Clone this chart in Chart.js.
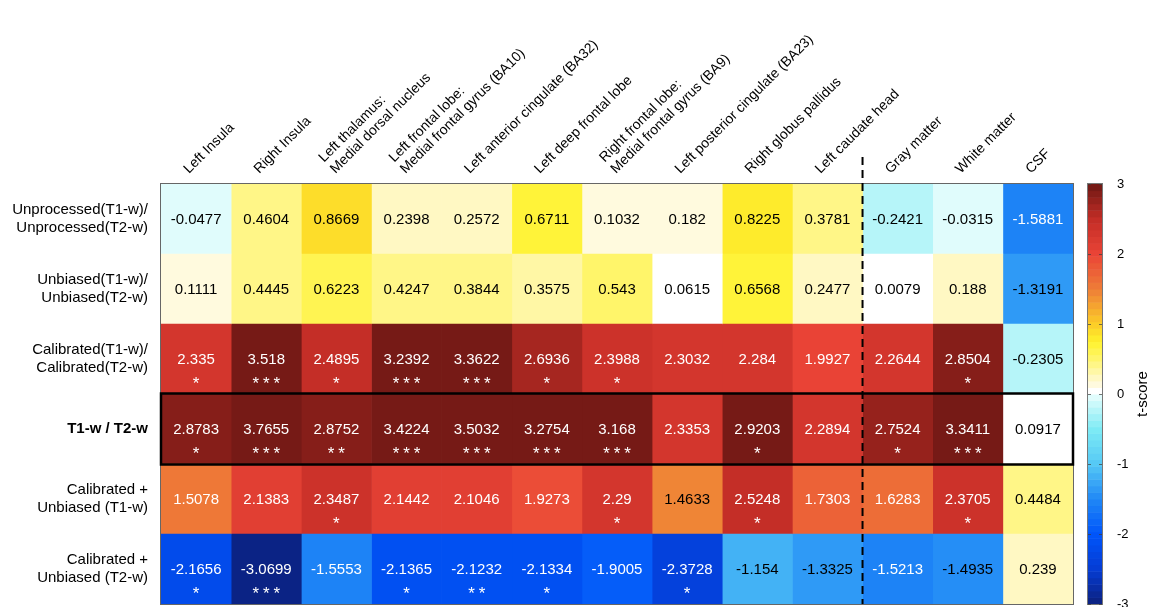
<!DOCTYPE html>
<html>
<head>
<meta charset="utf-8">
<script src="https://cdn.jsdelivr.net/npm/chart.js@4"></script>
<style>
  html, body { margin: 0; padding: 0; background: #fff; }
  #wrap { width: 1149px; height: 607px; }
</style>
</head>
<body>
<div id="wrap"><canvas id="heat" width="1149" height="607"></canvas></div>
<script>
// regions (columns) and contrasts (rows)
const regions = [
    ['Left Insula'],
    ['Right Insula'],
    ['Left thalamus:', 'Medial dorsal nucleus'],
    ['Left frontal lobe:', 'Medial frontal gyrus (BA10)'],
    ['Left anterior cingulate (BA32)'],
    ['Left deep frontal lobe'],
    ['Right frontal lobe:', 'Medial frontal gyrus (BA9)'],
    ['Left posterior cingulate (BA23)'],
    ['Right globus pallidus'],
    ['Left caudate head'],
    ['Gray matter'],
    ['White matter'],
    ['CSF']
];
const contrasts = [
    ['Unprocessed(T1-w)/', 'Unprocessed(T2-w)'],
    ['Unbiased(T1-w)/', 'Unbiased(T2-w)'],
    ['Calibrated(T1-w)/', 'Calibrated(T2-w)'],
    'T1-w / T2-w',
    ['Calibrated +', 'Unbiased (T1-w)'],
    ['Calibrated +', 'Unbiased (T2-w)']
];

// t-scores per contrast
const unprocessed = [-0.0477, 0.4604, 0.8669, 0.2398, 0.2572, 0.6711, 0.1032, 0.182, 0.8225, 0.3781, -0.2421, -0.0315, -1.5881];
const unbiased    = [0.1111, 0.4445, 0.6223, 0.4247, 0.3844, 0.3575, 0.543, 0.0615, 0.6568, 0.2477, 0.0079, 0.188, -1.3191];
const calibrated  = [2.335, 3.518, 2.4895, 3.2392, 3.3622, 2.6936, 2.3988, 2.3032, 2.284, 1.9927, 2.2644, 2.8504, -0.2305];
const t1t2        = [2.8783, 3.7655, 2.8752, 3.4224, 3.5032, 3.2754, 3.168, 2.3353, 2.9203, 2.2894, 2.7524, 3.3411, 0.0917];
const calUnbT1    = [1.5078, 2.1383, 2.3487, 2.1442, 2.1046, 1.9273, 2.29, 1.4633, 2.5248, 1.7303, 1.6283, 2.3705, 0.4484];
const calUnbT2    = [-2.1656, -3.0699, -1.5553, -2.1365, -2.1232, -2.1334, -1.9005, -2.3728, -1.154, -1.3325, -1.5213, -1.4935, 0.239];

// significance stars per contrast
const starsUnprocessed = ['', '', '', '', '', '', '', '', '', '', '', '', ''];
const starsUnbiased    = ['', '', '', '', '', '', '', '', '', '', '', '', ''];
const starsCalibrated  = ['*', '***', '*', '***', '***', '*', '*', '', '', '', '', '*', ''];
const starsT1T2        = ['*', '***', '**', '***', '***', '***', '***', '', '*', '', '*', '***', ''];
const starsCalUnbT1    = ['', '', '*', '', '', '', '*', '', '*', '', '', '*', ''];
const starsCalUnbT2    = ['*', '***', '', '*', '**', '*', '', '*', '', '', '', '', ''];

const cbTicks = [-3, -2, -1, 0, 1, 2, 3];

const tvals = [unprocessed, unbiased, calibrated, t1t2, calUnbT1, calUnbT2];
const stars = [starsUnprocessed, starsUnbiased, starsCalibrated, starsT1T2, starsCalUnbT1, starsCalUnbT2];

const FONT = "'Liberation Sans', Arial, Helvetica, sans-serif";
Chart.defaults.font.family = FONT;
Chart.defaults.color = '#000';

// diverging blue-white-yellow-red map, -3 .. 3, sampled in 64 steps
const cmap = [
    [-3,    [12, 32, 125]],
    [-2.5,  [5, 60, 212]],
    [-2,    [0, 85, 250]],
    [-1.5,  [32, 136, 246]],
    [-1,    [85, 200, 245]],
    [-0.5,  [125, 235, 245]],
    [-0.05, [222, 252, 252]],
    [0,     [255, 255, 255]],
    [0.094, [255, 255, 255]],
    [0.14,  [255, 250, 222]],
    [0.25,  [255, 248, 190]],
    [0.5,   [255, 245, 110]],
    [0.75,  [255, 242, 45]],
    [1,     [252, 205, 40]],
    [1.5,   [238, 125, 55]],
    [2,     [234, 68, 55]],
    [2.5,   [195, 45, 38]],
    [3,     [110, 24, 20]]
];
const NBINS = 64;
function interp(v) {
    for (let i = 1; i < cmap.length; i++) {
        const [v1, c1] = cmap[i];
        const [v0, c0] = cmap[i - 1];
        if (v <= v1) {
            const f = (v - v0) / (v1 - v0);
            return c0.map((a, k) => Math.round(a + (c1[k] - a) * f));
        }
    }
    return cmap[cmap.length - 1][1];
}
function colorFor(v) {
    const bin = Math.max(0, Math.min(NBINS - 1, Math.floor((v + 3) / 6 * NBINS)));
    const c = interp(-3 + (bin + 0.5) * 6 / NBINS);
    return `rgb(${c[0]},${c[1]},${c[2]})`;
}

// one floating-bar dataset per region column
const datasets = regions.map((name, c) => ({
    label: name.join(' '),
    data: contrasts.map(() => [c, c + 1]),
    backgroundColor: ctx => colorFor(tvals[ctx.dataIndex][c]),
    borderWidth: 0,
    barPercentage: 1,
    categoryPercentage: 1,
    grouped: false
}));

// fixed axis sizes, no label overhang padding
function fixSize(prop, size) {
    return s => {
        s[prop] = size;
        s.paddingTop = 0; s.paddingBottom = 0;
        s.paddingLeft = 0; s.paddingRight = 0;
    };
}

const heatDecor = {
    id: 'heatDecor',
    afterDatasetsDraw(chart) {
        const { ctx, chartArea: area } = chart;
        const x = chart.scales.x, y = chart.scales.y, cb = chart.scales.cb;
        const band = y.getPixelForValue(1) - y.getPixelForValue(0);
        ctx.save();

        // frame
        ctx.strokeStyle = '#666';
        ctx.lineWidth = 1;
        ctx.strokeRect(area.left - 0.5, area.top - 0.5, area.right - area.left + 1, area.bottom - area.top + 1);

        // cell values and stars
        ctx.textAlign = 'center';
        tvals.forEach((row, r) => {
            const cy = y.getPixelForValue(r);
            row.forEach((v, c) => {
                const cx = x.getPixelForValue(c + 0.5);
                ctx.fillStyle = Math.abs(v) >= 1.5 ? '#fff' : '#000';
                ctx.font = `15px ${FONT}`;
                ctx.textBaseline = 'middle';
                ctx.fillText(String(v), cx, cy + 1);
                const s = stars[r][c];
                if (s) {
                    ctx.font = `17px ${FONT}`;
                    ctx.textBaseline = 'alphabetic';
                    const step = 10.5;
                    for (let k = 0; k < s.length; k++) {
                        ctx.fillText('*', cx + (k - (s.length - 1) / 2) * step, cy + 30);
                    }
                }
            });
        });

        // box around the T1-w / T2-w row
        const by = y.getPixelForValue(3);
        ctx.strokeStyle = '#000';
        ctx.lineWidth = 2.5;
        ctx.strokeRect(area.left, by - band / 2 - 0.5, area.right - area.left, band + 1);

        // dashed separator between regions and tissue classes
        const sx = x.getPixelForValue(10);
        ctx.setLineDash([8, 5]);
        ctx.lineWidth = 2;
        ctx.beginPath();
        ctx.moveTo(sx, area.top - 27);
        ctx.lineTo(sx, area.bottom);
        ctx.stroke();
        ctx.setLineDash([]);

        // rotated column labels
        ctx.fillStyle = '#000';
        ctx.font = `14px ${FONT}`;
        ctx.textAlign = 'left';
        ctx.textBaseline = 'alphabetic';
        const lh = 16 * Math.SQRT1_2;
        regions.forEach((lines, c) => {
            const n = lines.length;
            const bx = x.getPixelForValue(c + 0.5) - 7 + 6 * (n - 1);
            const byy = area.top - 10;
            lines.forEach((txt, i) => {
                const back = n - 1 - i;
                ctx.save();
                ctx.translate(bx - back * lh, byy - back * lh);
                ctx.rotate(-Math.PI / 4);
                ctx.fillText(txt, 0, 0);
                ctx.restore();
            });
        });

        // colour bar
        const x0 = area.right + 15, w = 14;
        const top = cb.getPixelForValue(3), bot = cb.getPixelForValue(-3);
        for (let i = 0; i < NBINS; i++) {
            const v0 = -3 + 6 * i / NBINS, v1 = -3 + 6 * (i + 1) / NBINS;
            const p0 = cb.getPixelForValue(v0), p1 = cb.getPixelForValue(v1);
            ctx.fillStyle = colorFor((v0 + v1) / 2);
            ctx.fillRect(x0, p1, w, p0 - p1 + 0.5);
        }
        ctx.strokeStyle = '#777';
        ctx.lineWidth = 1;
        ctx.strokeRect(x0 - 0.5, top - 0.5, w + 1, bot - top + 1);
        ctx.strokeStyle = 'rgba(60,60,60,0.7)';
        cbTicks.forEach(t => {
            const p = Math.round(cb.getPixelForValue(t)) + 0.5;
            ctx.beginPath();
            ctx.moveTo(x0, p); ctx.lineTo(x0 + 3, p);
            ctx.moveTo(x0 + w - 3, p); ctx.lineTo(x0 + w, p);
            ctx.stroke();
        });

        // colour bar title
        ctx.save();
        ctx.translate(1143, (top + bot) / 2);
        ctx.rotate(-Math.PI / 2);
        ctx.font = `15px ${FONT}`;
        ctx.textAlign = 'center';
        ctx.textBaseline = 'middle';
        ctx.fillStyle = '#000';
        ctx.fillText('t-score', 0, 0);
        ctx.restore();

        ctx.restore();
    }
};

new Chart(document.getElementById('heat'), {
    type: 'bar',
    data: { labels: contrasts, datasets },
    options: {
        indexAxis: 'y',
        responsive: false,
        animation: false,
        layout: { padding: { top: 0, left: 0, right: 0, bottom: 3 } },
        plugins: { legend: { display: false }, tooltip: { enabled: false } },
        scales: {
            x: {
                type: 'linear',
                position: 'top',
                min: 0,
                max: regions.length,
                grid: { display: false },
                border: { display: false },
                ticks: { display: false },
                afterFit: fixSize('height', 184)
            },
            y: {
                type: 'category',
                grid: { display: false },
                border: { display: false },
                ticks: {
                    padding: 5,
                    font: ctx => ({ size: 15, weight: ctx.index === 3 ? 'bold' : 'normal', lineHeight: 1.2 })
                },
                afterFit: fixSize('width', 161)
            },
            cb: {
                type: 'linear',
                position: 'right',
                offset: false,
                min: -3,
                max: 3,
                grid: { display: false, offset: false },
                border: { display: false },
                ticks: { stepSize: 1, padding: 36, font: { size: 13 }, callback: v => cbTicks.includes(v) ? String(v) : '' },
                afterFit: fixSize('width', 76)
            }
        }
    },
    plugins: [heatDecor]
});
</script>
</body>
</html>
